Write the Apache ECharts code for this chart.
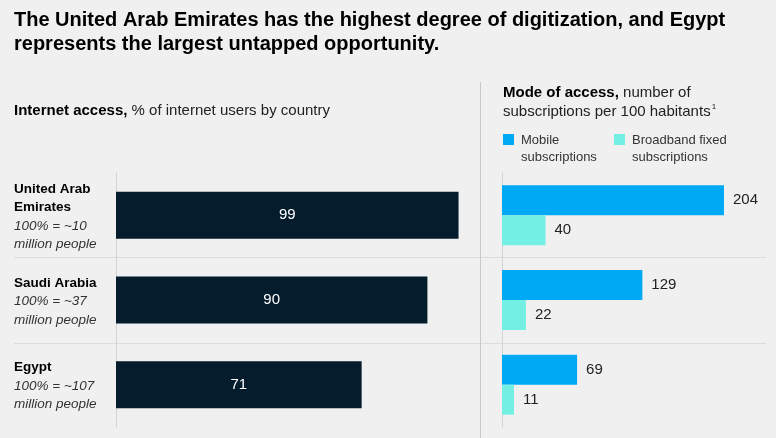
<!DOCTYPE html>
<html>
<head>
<meta charset="utf-8">
<script src="https://cdn.jsdelivr.net/npm/echarts@6/dist/echarts.min.js"></script>
<style>
html,body{margin:0;padding:0;background:#f0f0f0;}
#chart{width:776px;height:438px;}
</style>
</head>
<body>
<div id="chart"></div>
<script>
// ---- data ----
var countries = ['United Arab\nEmirates', 'Saudi Arabia', 'Egypt'];
var populations = ['~10', '~37', '~107'];
var internetAccess = [99, 90, 71];
var mobileSubs = [204, 129, 69];
var broadbandSubs = [40, 22, 11];
var seriesNames = ['Mobile\nsubscriptions', 'Broadband fixed\nsubscriptions'];

var FONT = '"Liberation Sans", Arial, sans-serif';
var chart = echarts.init(document.getElementById('chart'));

var catLabels = countries.map(function (c, i) {
  return '{b|' + c + '}\n{i|100% = ' + populations[i] + '\nmillion people}';
});

// legend icon: square on top of a taller item box so it lines up with the first text line
var legendIcon = 'path://M0,0H11V11H0Z M0,30';

function legendFor(name, left) {
  return {
    data: [name], left: left, top: 132, padding: 0,
    itemWidth: 11, itemHeight: 30, icon: legendIcon,
    selectedMode: false,
    textStyle: { fontSize: 13, color: '#333', lineHeight: 17, fontFamily: FONT, padding: [0, 0, 0, 2] }
  };
}

var option = {
  backgroundColor: '#f0f0f0',
  textStyle: { fontFamily: FONT },
  animation: false,
  title: [
    {
      text: 'The United Arab Emirates has the highest degree of digitization, and Egypt\nrepresents the largest untapped opportunity.',
      left: 14, top: 8, padding: 0,
      textStyle: { fontSize: 20, fontWeight: 'bold', color: '#000', lineHeight: 24.5, fontFamily: FONT }
    },
    {
      text: '{b|Internet access, }{r|% of internet users by country}',
      left: 14, top: 103, padding: 0,
      textStyle: {
        rich: {
          b: { fontSize: 15, fontWeight: 'bold', color: '#000', fontFamily: FONT },
          r: { fontSize: 15, fontWeight: 'normal', color: '#222', fontFamily: FONT }
        }
      }
    },
    {
      text: '{b|Mode of access, }{r|number of}\n{r|subscriptions per 100 habitants}{s|1}',
      left: 503, top: 84, padding: 0,
      textStyle: {
        lineHeight: 18.5,
        rich: {
          b: { fontSize: 15, fontWeight: 'bold', color: '#000', lineHeight: 18.5, fontFamily: FONT },
          r: { fontSize: 15, fontWeight: 'normal', color: '#222', lineHeight: 18.5, fontFamily: FONT },
          s: { fontSize: 8, fontWeight: 'normal', color: '#222', verticalAlign: 'top', lineHeight: 18.5, padding: [0, 0, 8, 1], fontFamily: FONT }
        }
      }
    }
  ],
  legend: [
    legendFor(seriesNames[0], 503),
    legendFor(seriesNames[1], 614)
  ],
  grid: [
    { left: 116, width: 346, top: 173, height: 254 },
    { left: 502, width: 272, top: 173, height: 254 }
  ],
  xAxis: [
    { gridIndex: 0, type: 'value', min: 0, max: 100, show: false },
    { gridIndex: 1, type: 'value', min: 0, max: 250, show: false }
  ],
  yAxis: [
    {
      gridIndex: 0, type: 'category', data: catLabels, inverse: true,
      axisLine: { show: true, lineStyle: { color: '#d4d4d4', width: 1 } },
      axisTick: { show: false },
      splitLine: { show: false },
      axisLabel: {
        align: 'left', margin: 102, padding: [3, 0, 0, 0],
        rich: {
          b: { fontSize: 13.5, fontWeight: 'bold', color: '#000', lineHeight: 18.5, fontFamily: FONT },
          i: { fontSize: 13.5, fontStyle: 'italic', color: '#333', lineHeight: 18.5, fontFamily: FONT }
        }
      }
    },
    {
      gridIndex: 1, type: 'category', data: countries, inverse: true,
      axisLine: { show: true, lineStyle: { color: '#d4d4d4', width: 1 } },
      axisTick: { show: false },
      axisLabel: { show: false }
    }
  ],
  series: [
    {
      type: 'bar', xAxisIndex: 0, yAxisIndex: 0, data: internetAccess,
      barWidth: 47, itemStyle: { color: '#051c2c' },
      label: { show: true, position: 'inside', color: '#fff', fontSize: 15, fontFamily: FONT },
      silent: true
    },
    {
      name: seriesNames[0],
      type: 'bar', xAxisIndex: 1, yAxisIndex: 1, data: mobileSubs,
      barWidth: 30, barGap: '0%', itemStyle: { color: '#00a9f4' },
      label: { show: true, position: 'right', distance: 9, color: '#222', fontSize: 15, fontFamily: FONT }
    },
    {
      name: seriesNames[1],
      type: 'bar', xAxisIndex: 1, yAxisIndex: 1, data: broadbandSubs,
      barWidth: 30, barGap: '0%', itemStyle: { color: '#74efe4' },
      label: { show: true, position: 'right', distance: 9, color: '#222', fontSize: 15, fontFamily: FONT }
    }
  ],
  graphic: [
    { type: 'line', shape: { x1: 14, y1: 257.5, x2: 766, y2: 257.5 }, style: { stroke: '#dcdcdc', lineWidth: 1 }, silent: true },
    { type: 'line', shape: { x1: 14, y1: 343.5, x2: 766, y2: 343.5 }, style: { stroke: '#dcdcdc', lineWidth: 1 }, silent: true },
    { type: 'line', shape: { x1: 480.5, y1: 82, x2: 480.5, y2: 438 }, style: { stroke: '#c8c8c8', lineWidth: 1 }, silent: true }
  ]
};
chart.setOption(option);
</script>
</body>
</html>
